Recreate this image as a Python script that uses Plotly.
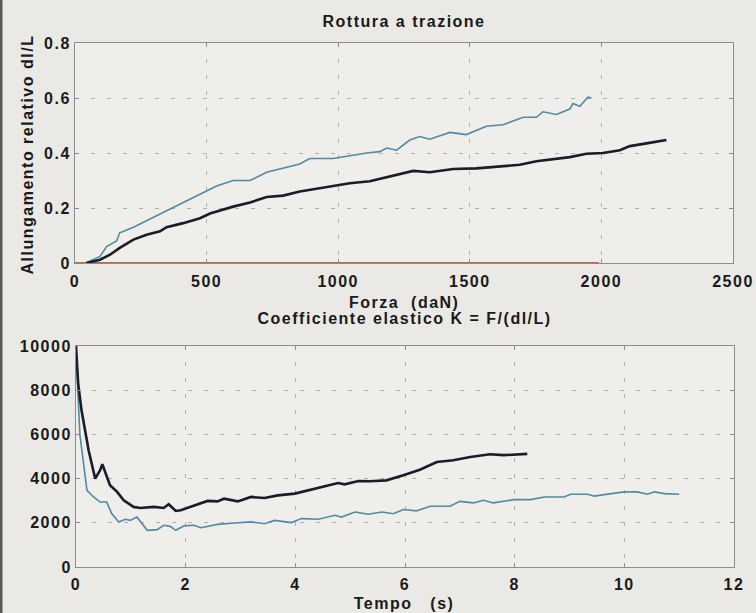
import plotly.graph_objects as go

# ---- Top panel: Rottura a trazione ----
forza_blue = [40, 95, 120, 158, 170, 222, 285, 348, 411, 475, 538, 601, 665, 728, 791, 854, 892, 981, 1044, 1108, 1158,
              1184, 1222, 1272, 1310, 1348, 1424, 1487, 1563, 1627, 1703, 1753, 1778, 1829, 1880, 1892, 1918, 1949, 1962]
allung_blue = [0.0, 0.024, 0.06, 0.08, 0.11, 0.13, 0.16, 0.19, 0.22, 0.25, 0.28, 0.30, 0.30, 0.33, 0.345, 0.36, 0.38, 0.38, 0.39, 0.40, 0.405,
               0.418, 0.41, 0.447, 0.46, 0.45, 0.475, 0.467, 0.497, 0.503, 0.53, 0.53, 0.55, 0.54, 0.56, 0.58, 0.57, 0.603, 0.60]

forza_black = [44, 95, 133, 170, 222, 272, 323, 348, 411, 475, 513, 601, 665, 728, 791, 854, 981, 1044, 1120,
               1196, 1285, 1348, 1437, 1525, 1627, 1690, 1753, 1829, 1880, 1943, 2006, 2070, 2108, 2171, 2247]
allung_black = [0.0, 0.012, 0.03, 0.055, 0.085, 0.103, 0.115, 0.13, 0.145, 0.163, 0.18, 0.205, 0.22, 0.24, 0.245, 0.26, 0.28, 0.29, 0.297,
                0.315, 0.335, 0.33, 0.342, 0.344, 0.351, 0.357, 0.37, 0.378, 0.385, 0.397, 0.40, 0.41, 0.425, 0.435, 0.447]

forza_zero = [0, 1991]
allung_zero = [0, 0]

# ---- Bottom panel: Coefficiente elastico ----
tempo_black = [0.0, 0.04, 0.1, 0.23, 0.35, 0.44, 0.48, 0.62, 0.75, 0.87, 1.05, 1.17, 1.42, 1.6, 1.69, 1.82, 1.91, 2.15, 2.4,
               2.58, 2.7, 2.95, 3.19, 3.44, 3.68, 3.99, 4.29, 4.6, 4.78, 4.9, 5.15, 5.36, 5.66, 5.97, 6.27, 6.58, 6.88,
               7.19, 7.55, 7.80, 8.23]
k_black = [10000, 8300, 7100, 5280, 4000, 4380, 4650, 3700, 3400, 3020, 2720, 2670, 2720, 2670, 2840, 2535, 2570, 2790, 2990,
           2970, 3090, 2970, 3170, 3120, 3240, 3320, 3500, 3700, 3800, 3740, 3890, 3880, 3920, 4150, 4400, 4750, 4830,
           4980, 5100, 5060, 5120]

tempo_blue = [0.0, 0.07, 0.2, 0.32, 0.44, 0.56, 0.65, 0.78, 0.9, 0.99, 1.11, 1.3, 1.48, 1.6, 1.72, 1.82, 1.97, 2.15, 2.28,
              2.58, 2.89, 3.19, 3.44, 3.62, 3.93, 4.11, 4.42, 4.72, 4.84, 5.09, 5.33, 5.58, 5.79, 5.97, 6.21, 6.46, 6.82,
              7.0, 7.25, 7.43, 7.61, 7.80, 7.99, 8.29, 8.54, 8.90, 9.02, 9.33, 9.45, 9.76, 10.0, 10.24, 10.42, 10.55,
              10.73, 11.0]
k_blue = [9800, 6000, 3470, 3170, 2940, 2940, 2420, 2040, 2160, 2110, 2260, 1660, 1690, 1890, 1840, 1660, 1860, 1890, 1780,
          1930, 1990, 2040, 1960, 2110, 2010, 2190, 2160, 2340, 2260, 2490, 2390, 2490, 2410, 2600, 2540, 2750, 2750,
          2970, 2900, 3020, 2900, 2990, 3050, 3050, 3170, 3170, 3290, 3290, 3210, 3320, 3400, 3400, 3290, 3400,
          3320, 3290]

x1_ticks = [0, 500, 1000, 1500, 2000, 2500]
y1_ticks = [0, 0.2, 0.4, 0.6, 0.8]
y1_labels = ["0", "0.2", "0.4", "0.6", "0.8"]
x2_ticks = [0, 2, 4, 6, 8, 10, 12]
y2_ticks = [0, 2000, 4000, 6000, 8000, 10000]
y2_labels = ["0", "2000", "4000", "6000", "8000", "10000"]

BLUE = "#5289a5"
BLACK = "#1c1c28"
ORANGE = "#c4673a"
BG = "#eae9e5"
PLOT_BG = "#efeeea"
FONT = "Liberation Sans, Arial, sans-serif"

fig = go.Figure()
fig.add_trace(go.Scatter(x=forza_zero, y=allung_zero, mode="lines", line=dict(color=ORANGE, width=2),
                         xaxis="x", yaxis="y", showlegend=False))
fig.add_trace(go.Scatter(x=forza_blue, y=allung_blue, mode="lines", line=dict(color=BLUE, width=1.6),
                         xaxis="x", yaxis="y", showlegend=False))
fig.add_trace(go.Scatter(x=forza_black, y=allung_black, mode="lines", line=dict(color=BLACK, width=2.6),
                         xaxis="x", yaxis="y", showlegend=False))
fig.add_trace(go.Scatter(x=tempo_blue, y=k_blue, mode="lines", line=dict(color=BLUE, width=1.6),
                         xaxis="x2", yaxis="y2", showlegend=False))
fig.add_trace(go.Scatter(x=tempo_black, y=k_black, mode="lines", line=dict(color=BLACK, width=2.6),
                         xaxis="x2", yaxis="y2", showlegend=False))

W, H = 756, 613
def px(xp):
    return xp / W
def py(yp):
    return 1 - yp / H

tickfont = dict(family=FONT, size=16, color="#1a1a1a", weight="bold")
axis_common = dict(showline=True, linecolor="#8c8c8c", linewidth=1, mirror="ticks", ticks="inside",
                   ticklen=4, tickcolor="#8c8c8c", showgrid=True, gridcolor="#b0b0b0", griddash="4px,12px",
                   gridwidth=1, zeroline=False, tickfont=tickfont, automargin=False)

fig.update_layout(
    width=W, height=H, margin=dict(l=0, r=0, t=0, b=0),
    paper_bgcolor=BG, plot_bgcolor=PLOT_BG,
    xaxis=dict(domain=[px(75), px(733)], range=[0, 2500], tickvals=x1_ticks, anchor="y",
               ticklabelstandoff=4, **axis_common),
    yaxis=dict(domain=[py(263), py(43)], range=[0, 0.8], tickvals=y1_ticks, ticktext=y1_labels, anchor="x", **axis_common),
    xaxis2=dict(domain=[px(76), px(734)], range=[0, 12], tickvals=x2_ticks, anchor="y2",
                ticklabelstandoff=3, **axis_common),
    yaxis2=dict(domain=[py(567), py(346)], range=[0, 10000], tickvals=y2_ticks, ticktext=y2_labels, anchor="x2", **axis_common),
)

tfont = dict(family=FONT, size=16, color="#1a1a1a", weight="bold")
NB = "\u00a0"
annots = [
    dict(text="Rottura a trazione", x=px(404), y=py(21)),
    dict(text="Forza" + NB * 2 + "(daN)", x=px(404), y=py(302)),
    dict(text="Coefficiente elastico K = F/(dl/L)", x=px(404), y=py(318)),
    dict(text="Tempo" + NB * 3 + "(s)", x=px(404), y=py(603)),
]
for a in annots:
    fig.add_annotation(xref="paper", yref="paper", showarrow=False, font=tfont,
                       xanchor="center", yanchor="middle", **a)
fig.add_annotation(text="Allungamento relativo dl/L", xref="paper", yref="paper", x=px(27), y=py(155),
                   showarrow=False, textangle=-90, font=tfont, xanchor="center", yanchor="middle")

# dark scan edge on the left
fig.add_shape(type="rect", xref="paper", yref="paper", x0=0, x1=px(2.5), y0=0, y1=1,
              fillcolor="#5a5a5a", line=dict(width=0), layer="above")

post_js = """
document.documentElement.style.margin='0';
document.body.style.margin='0';
document.body.style.background='%s';
var sel = 'g.xtick text, g.ytick text, g.x2tick text, g.y2tick text, g.annotation text';
document.querySelectorAll(sel).forEach(function(t){ t.style.letterSpacing='1.5px'; });
""" % BG

fig.write_html("out.html", post_script=post_js, config={"displayModeBar": False})
